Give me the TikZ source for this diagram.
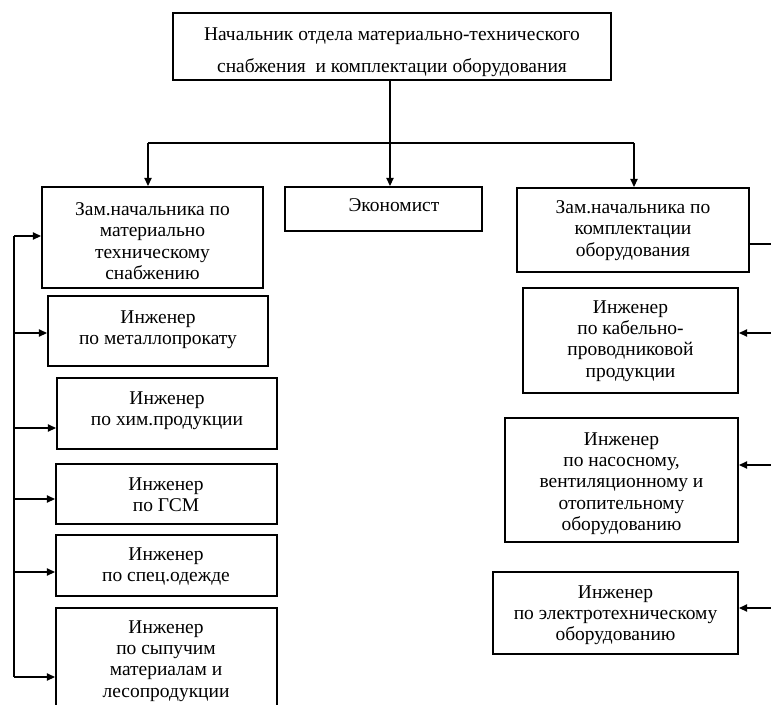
\documentclass[tikz,border=0pt]{standalone}
\usepackage{fontspec}
\setmainfont{Liberation Serif}
\usetikzlibrary{arrows.meta,fit}
\tikzset{
  boxr/.style={draw, line width=1.6pt, inner sep=0pt},
  txt/.style={align=center, inner sep=0pt, anchor=north, font=\fontsize{14.6}{16.1}\selectfont},
  conn/.style={line width=0.8pt},
  arr/.style={line width=0.8pt, -{Triangle[length=6pt,width=5.5pt]}}
}
% name, x1, y1, x2, y2, text x, text top y, text
\newcommand\bxx[8]{%
  \coordinate (#1-nw) at (#2,#3);
  \coordinate (#1-se) at (#4,#5);
  \node[boxr, fit=(#1-nw)(#1-se)] (#1) {};
  \node[txt] (#1-t) at (#6,#7) {#8};
}
\begin{document}
\begin{tikzpicture}[x=0.75pt,y=-0.75pt]
\useasboundingbox (0,0) rectangle (771,704);
\clip (0,0) rectangle (771,704);
\fill[white] (0,0) rectangle (771,704);

\bxx{top}{173}{13}{611}{80}{392}{27}{Начальник отдела материально-технического\\[7.9pt]снабжения\ \ и комплектации оборудования}
\bxx{zam1}{42}{187}{263}{288}{152.5}{202}{Зам.начальника по\\материально\\техническому\\снабжению}
\bxx{econ}{285}{187}{482}{231}{394}{198}{Экономист}
\bxx{zam2}{517}{188}{749}{272}{633}{200}{Зам.начальника по\\комплектации\\оборудования}

\bxx{met}{48}{296}{268}{366}{158}{310}{Инженер\\по металлопрокату}
\bxx{chem}{57}{378}{277}{449}{167}{391}{Инженер\\по хим.продукции}
\bxx{gsm}{56}{464}{277}{524}{166}{477}{Инженер\\по ГСМ}
\bxx{spec}{56}{535}{277}{596}{166}{547}{Инженер\\по спец.одежде}
\bxx{syp}{56}{608}{277}{730}{166}{620}{Инженер\\по сыпучим\\материалам и\\лесопродукции}

\bxx{cab}{523}{288}{738}{393}{630.5}{300}{Инженер\\по кабельно-\\проводниковой\\продукции}
\bxx{pump}{505}{418}{738}{542}{621.5}{432}{Инженер\\по насосному,\\вентиляционному и\\отопительному\\оборудованию}
\bxx{elec}{493}{572}{738}{654}{615.5}{585}{Инженер\\по электротехническому\\оборудованию}

% top connectors
\coordinate (hl) at (148,143);
\coordinate (hr) at (634,143);
\coordinate (tv) at (390,80);
\draw[conn] (hl) -- (hr);
\draw[arr] (tv) -- (tv |- econ.north);
\draw[arr] (hl) -- (hl |- zam1.north);
\draw[arr] (hr) -- (hr |- zam2.north);

% left bus
\coordinate (lt) at (14,236);
\coordinate (lb) at (14,677);
\draw[conn] (lt) -- (lb);
\coordinate (l1) at (14,236);
\coordinate (l2) at (14,333);
\coordinate (l3) at (14,428);
\coordinate (l4) at (14,499);
\coordinate (l5) at (14,572);
\coordinate (l6) at (14,677);
\draw[arr] (l1) -- (l1 -| zam1.west);
\draw[arr] (l2) -- (l2 -| met.west);
\draw[arr] (l3) -- (l3 -| chem.west);
\draw[arr] (l4) -- (l4 -| gsm.west);
\draw[arr] (l5) -- (l5 -| spec.west);
\draw[arr] (l6) -- (l6 -| syp.west);

% right bus (cut at edge)
\coordinate (r0) at (775,244);
\coordinate (r1) at (775,333);
\coordinate (r2) at (775,465);
\coordinate (r3) at (775,608);
\draw[conn] (r0) -- (r0 -| zam2.east);
\draw[arr] (r1) -- (r1 -| cab.east);
\draw[arr] (r2) -- (r2 -| pump.east);
\draw[arr] (r3) -- (r3 -| elec.east);
\end{tikzpicture}
\end{document}
